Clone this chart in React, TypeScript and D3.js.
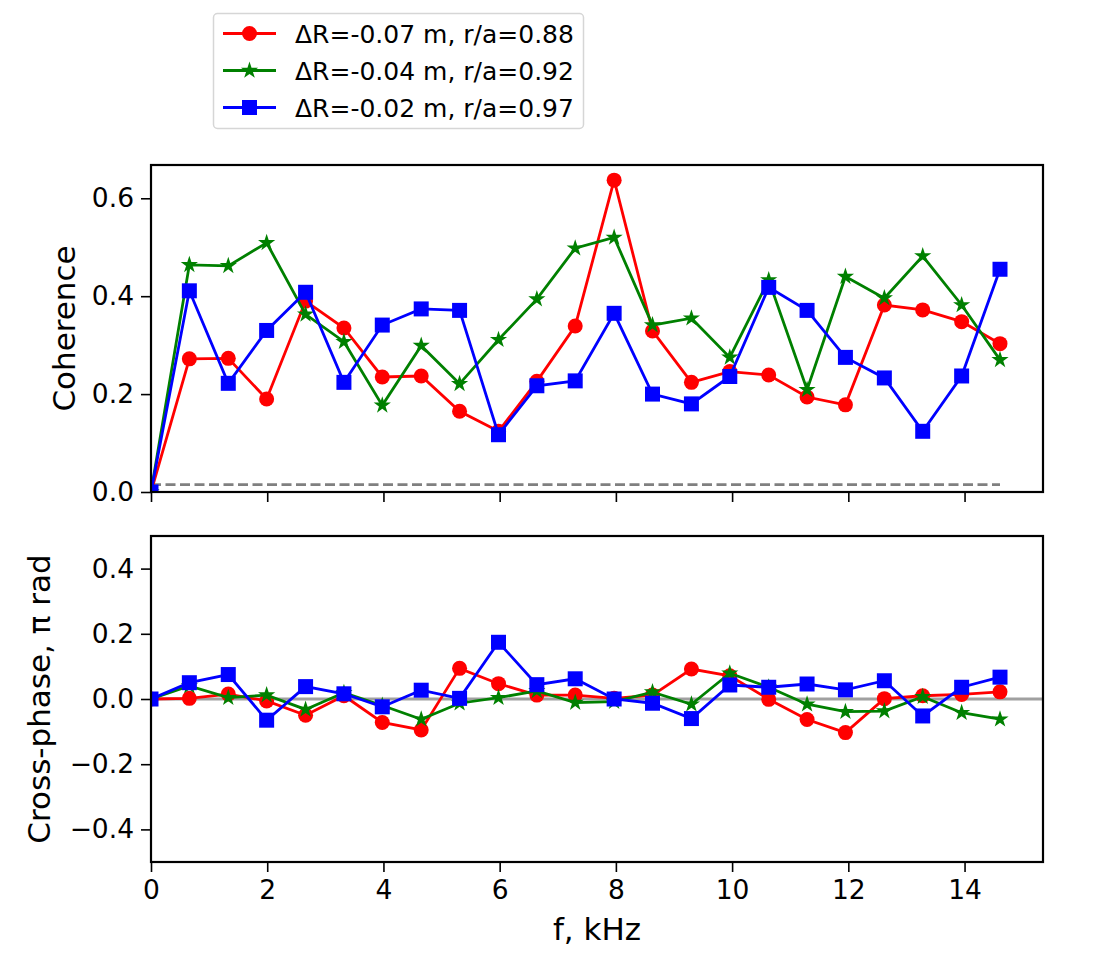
import { useEffect, useRef } from "react";
import * as d3 from "d3";

// frequency bins, kHz
const freq = [
  0, 0.66, 1.33, 1.99, 2.66, 3.32, 3.98, 4.65, 5.31, 5.98, 6.64, 7.3, 7.97,
  8.63, 9.3, 9.96, 10.63, 11.29, 11.95, 12.62, 13.28, 13.95, 14.61,
];

// coherence per probe pair
const cohRed = [
  0, 0.272, 0.273, 0.19, 0.39, 0.335, 0.235, 0.237, 0.165, 0.124, 0.226, 0.339,
  0.637, 0.329, 0.224, 0.246, 0.239, 0.194, 0.178, 0.382, 0.372, 0.348, 0.303,
];
const cohGreen = [
  0, 0.464, 0.462, 0.509, 0.363, 0.307, 0.177, 0.299, 0.221, 0.311, 0.394,
  0.498, 0.52, 0.341, 0.355, 0.275, 0.433, 0.209, 0.44, 0.396, 0.482, 0.382,
  0.27,
];
const cohBlue = [
  0, 0.411, 0.222, 0.33, 0.408, 0.224, 0.341, 0.374, 0.371, 0.117, 0.217, 0.227,
  0.365, 0.2, 0.18, 0.236, 0.418, 0.371, 0.275, 0.233, 0.124, 0.237, 0.455,
];

// cross-phase, units of pi rad
const phRed = [
  0, 0.002, 0.015, -0.006, -0.05, 0.01, -0.072, -0.095, 0.094, 0.047, 0.012,
  0.012, 0.002, 0.012, 0.092, 0.071, -0.001, -0.063, -0.103, 0.001, 0.01, 0.014,
  0.022,
];
const phGreen = [
  0, 0.04, 0.004, 0.012, -0.032, 0.019, -0.02, -0.062, -0.013, 0.004, 0.025,
  -0.011, -0.008, 0.021, -0.016, 0.079, 0.036, -0.016, -0.039, -0.037, 0.007,
  -0.042, -0.062,
];
const phBlue = [
  0, 0.05, 0.075, -0.065, 0.038, 0.016, -0.024, 0.027, 0.002, 0.174, 0.044,
  0.062, 0, -0.013, -0.06, 0.043, 0.036, 0.046, 0.028, 0.056, -0.052, 0.036,
  0.067,
];

const seriesLabels = [
  "ΔR=-0.07 m, r/a=0.88",
  "ΔR=-0.04 m, r/a=0.92",
  "ΔR=-0.02 m, r/a=0.97",
];
const seriesColors = ["#ff0000", "#008000", "#0000ff"];
const seriesMarkers = ["circle", "star", "square"];

const noiseLevel = 0.015; // dashed significance level
const xTicks = [0, 2, 4, 6, 8, 10, 12, 14];
const cohTicks = [0, 0.2, 0.4, 0.6];
const phTicks = [-0.4, -0.2, 0, 0.2, 0.4];

const FONT = "DejaVu Sans, sans-serif";

const App = () => {
  const svgRef = useRef<SVGSVGElement | null>(null);

  useEffect(() => {
    if (!svgRef.current) return;
    const svg = d3.select(svgRef.current);
    svg.selectAll("*").remove();

    const left = 151;
    const right = 1043;

    const x = d3.scaleLinear().domain([0, 15.35]).range([left, right]);
    const yTop = d3.scaleLinear().domain([0, 0.668]).range([492, 165]);
    const yBot = d3.scaleLinear().domain([-0.5, 0.5]).range([862, 536]);

    const markerPath = (kind: string) => {
      if (kind === "circle") return d3.symbol(d3.symbolCircle, Math.PI * 7.5 * 7.5)();
      if (kind === "square") return d3.symbol(d3.symbolSquare, 225)();
      return d3.symbol(d3.symbolStar, 92)();
    };

    const drawPanel = (
      id: string,
      y: d3.ScaleLinear<number, number>,
      series: number[][],
      ticks: number[],
      label: string,
      showX: boolean
    ) => {
      const [y0, y1] = y.range();
      svg
        .append("clipPath")
        .attr("id", id)
        .append("rect")
        .attr("x", left)
        .attr("y", y1)
        .attr("width", right - left)
        .attr("height", y0 - y1);

      const plot = svg.append("g").attr("clip-path", `url(#${id})`);

      if (id === "clipTop") {
        plot
          .append("line")
          .attr("x1", x(freq[0]))
          .attr("x2", x(freq[freq.length - 1]))
          .attr("y1", y(noiseLevel))
          .attr("y2", y(noiseLevel))
          .attr("stroke", "#808080")
          .attr("stroke-width", 2.8)
          .attr("stroke-dasharray", "10,4.5");
      } else {
        plot
          .append("line")
          .attr("x1", left)
          .attr("x2", right)
          .attr("y1", y(0))
          .attr("y2", y(0))
          .attr("stroke", "#a0a0a0")
          .attr("stroke-width", 2.8);
      }

      const line = d3
        .line<number>()
        .x((_, i) => x(freq[i]))
        .y((d) => y(d));

      series.forEach((vals, s) => {
        plot
          .append("path")
          .attr("d", line(vals))
          .attr("fill", "none")
          .attr("stroke", seriesColors[s])
          .attr("stroke-width", 2.8);
        plot
          .selectAll(`.m${s}`)
          .data(vals)
          .enter()
          .append("path")
          .attr("d", markerPath(seriesMarkers[s]))
          .attr("transform", (d, i) => `translate(${x(freq[i])},${y(d)})`)
          .attr("fill", seriesColors[s]);
      });

      // y axis
      const yAxis = svg
        .append("g")
        .attr("transform", `translate(${left},0)`)
        .call(
          d3
            .axisLeft(y)
            .tickValues(ticks)
            .tickSize(10)
            .tickPadding(7)
            .tickFormat(d3.format(".1f"))
        );
      yAxis.select(".domain").remove();
      yAxis.selectAll("line").attr("stroke-width", 1.6);
      yAxis
        .selectAll("text")
        .attr("font-family", FONT)
        .attr("font-size", 26.5)
        .attr("fill", "#000");

      // x axis
      const xAxis = svg
        .append("g")
        .attr("transform", `translate(0,${y0})`)
        .call(
          d3
            .axisBottom(x)
            .tickValues(xTicks)
            .tickSize(10)
            .tickPadding(8)
            .tickFormat(showX ? d3.format("d") : () => "")
        );
      xAxis.select(".domain").remove();
      xAxis.selectAll("line").attr("stroke-width", 1.6);
      xAxis
        .selectAll("text")
        .attr("font-family", FONT)
        .attr("font-size", 26.5)
        .attr("fill", "#000");

      // frame
      svg
        .append("rect")
        .attr("x", left)
        .attr("y", y1)
        .attr("width", right - left)
        .attr("height", y0 - y1)
        .attr("fill", "none")
        .attr("stroke", "#000")
        .attr("stroke-width", 2.2);

      // y label, placed left of widest tick label
      const labelX = id === "clipTop" ? 64 : 39;
      svg
        .append("text")
        .attr(
          "transform",
          `translate(${labelX},${(y0 + y1) / 2}) rotate(-90)`
        )
        .attr("text-anchor", "middle")
        .attr("dy", "0.35em")
        .attr("font-family", FONT)
        .attr("font-size", 31)
        .text(label);
    };

    drawPanel(
      "clipTop",
      yTop,
      [cohRed, cohGreen, cohBlue],
      cohTicks,
      "Coherence",
      false
    );
    drawPanel(
      "clipBot",
      yBot,
      [phRed, phGreen, phBlue],
      phTicks,
      "Cross-phase, π rad",
      true
    );

    // x label
    svg
      .append("text")
      .attr("x", (left + right) / 2)
      .attr("y", 940)
      .attr("text-anchor", "middle")
      .attr("font-family", FONT)
      .attr("font-size", 31)
      .text("f, kHz");

    // legend
    const legend = svg.append("g");
    legend
      .append("rect")
      .attr("x", 213.5)
      .attr("y", 13.5)
      .attr("width", 370)
      .attr("height", 115)
      .attr("rx", 4)
      .attr("fill", "#fff")
      .attr("stroke", "#d6d6d6")
      .attr("stroke-width", 1.5);

    const rowY = d3.scalePoint<number>().domain([0, 1, 2]).range([33.5, 107.5]);
    seriesLabels.forEach((lab, s) => {
      const cy = rowY(s) ?? 0;
      legend
        .append("line")
        .attr("x1", 223)
        .attr("x2", 276)
        .attr("y1", cy)
        .attr("y2", cy)
        .attr("stroke", seriesColors[s])
        .attr("stroke-width", 2.8);
      legend
        .append("path")
        .attr("d", markerPath(seriesMarkers[s]))
        .attr("transform", `translate(249.5,${cy})`)
        .attr("fill", seriesColors[s]);
      legend
        .append("text")
        .attr("x", 295)
        .attr("y", cy)
        .attr("dy", "0.36em")
        .attr("font-family", FONT)
        .attr("font-size", 25)
        .text(lab);
    });
  }, []);

  return (
    <svg
      ref={svgRef}
      width={1099}
      height={973}
      style={{ position: "absolute", left: 0, top: 0, background: "#fff" }}
    ></svg>
  );
};

export default App;
